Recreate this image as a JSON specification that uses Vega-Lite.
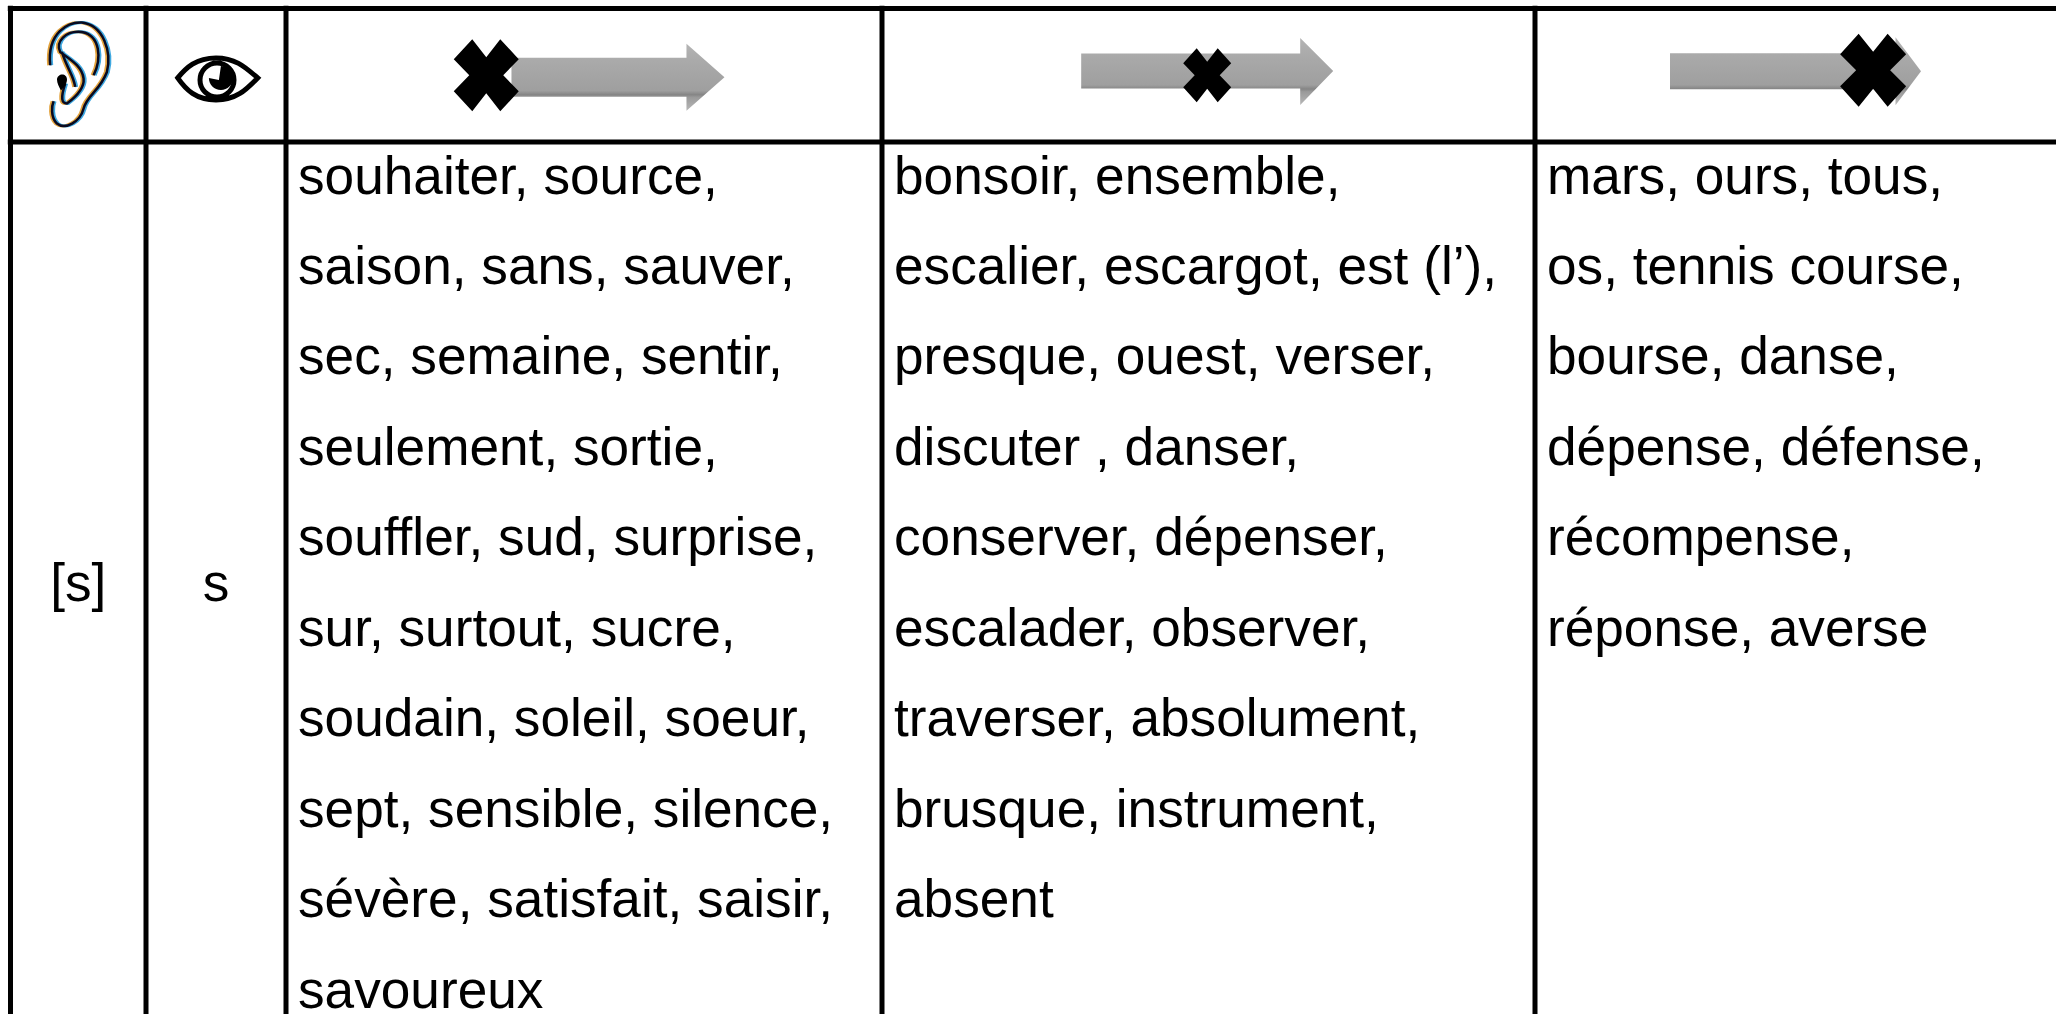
{"$schema":"https://vega.github.io/schema/vega-lite/v6.json","width":2056,"height":1014,"padding":0,"autosize":{"type":"fit","contains":"padding"},"background":"white","config":{"view":{"stroke":null}},
"datasets":{
"vertical":[{"edge":0,"top":-1.02,"bottom":10.5},{"edge":1,"top":-1.02,"bottom":10.5},{"edge":2,"top":-1.02,"bottom":10.5},{"edge":3,"top":-1.02,"bottom":10.5},{"edge":4,"top":-1.02,"bottom":10.5}],
"horizontal":[{"row":-1,"from":-0.02,"to":5},{"row":0,"from":-0.02,"to":5}],
"arrows":[{"icon":"arrow1","col":2.557,"row":-0.485},{"icon":"arrow2","col":3.498,"row":-0.52},{"icon":"arrow3","col":4.5,"row":-0.53}],
"solid":[{"icon":"cross1","col":2.336,"row":-0.5},{"icon":"cross2","col":3.498,"row":-0.5},{"icon":"cross3","col":4.649,"row":-0.537},{"icon":"canal","col":0.38,"row":-0.46},{"icon":"pupil","col":1.535,"row":-0.48}],
"ear":[{"icon":"ear","col":0.49,"row":-0.5}],
"eye":[{"icon":"eye","col":1.5,"row":-0.48}],
"centered":[{"col":0.5,"line":5.5,"text":"[s]"},{"col":1.5,"line":5.5,"text":"s"}],
"words":[
{"col":2,"line":1,"text":"souhaiter, source,"},
{"col":2,"line":2,"text":"saison, sans, sauver,"},
{"col":2,"line":3,"text":"sec, semaine, sentir,"},
{"col":2,"line":4,"text":"seulement, sortie,"},
{"col":2,"line":5,"text":"souffler, sud, surprise,"},
{"col":2,"line":6,"text":"sur, surtout, sucre,"},
{"col":2,"line":7,"text":"soudain, soleil, soeur,"},
{"col":2,"line":8,"text":"sept, sensible, silence,"},
{"col":2,"line":9,"text":"sévère, satisfait, saisir,"},
{"col":2,"line":10,"text":"savoureux"},
{"col":3,"line":1,"text":"bonsoir, ensemble,"},
{"col":3,"line":2,"text":"escalier, escargot, est (l’),"},
{"col":3,"line":3,"text":"presque, ouest, verser,"},
{"col":3,"line":4,"text":"discuter , danser,"},
{"col":3,"line":5,"text":"conserver, dépenser,"},
{"col":3,"line":6,"text":"escalader, observer,"},
{"col":3,"line":7,"text":"traverser, absolument,"},
{"col":3,"line":8,"text":"brusque, instrument,"},
{"col":3,"line":9,"text":"absent"},
{"col":4,"line":1,"text":"mars, ours, tous,"},
{"col":4,"line":2,"text":"os, tennis course,"},
{"col":4,"line":3,"text":"bourse, danse,"},
{"col":4,"line":4,"text":"dépense, défense,"},
{"col":4,"line":5,"text":"récompense,"},
{"col":4,"line":6,"text":"réponse, averse"}
]},
"layer":[
{"data":{"name":"arrows"},"mark":{"type":"point","filled":true,"opacity":1,"size":40000,"fill":{"gradient":"linear","x1":0,"y1":0,"x2":0,"y2":1,"stops":[{"offset":0,"color":"#b4b4b4"},{"offset":0.25,"color":"#aaaaaa"},{"offset":0.7,"color":"#9f9f9f"},{"offset":0.76,"color":"#858585"},{"offset":0.8,"color":"#9a9a9a"},{"offset":1,"color":"#b8b8b8"}]}},
"encoding":{"x":{"field":"col","type":"quantitative","axis":null,"scale":{"domain":[0,1,2,3,4,5],"range":[10.5,146,286,882,1535,2056],"zero":false,"nice":false}},"y":{"field":"row","type":"quantitative","axis":null,"scale":{"domain":[-1,0,1,10,10.5],"range":[8.5,142,176,990,1014],"zero":false,"nice":false}},
"shape":{"field":"icon","type":"nominal","legend":null,"scale":{"domain":["arrow1","arrow2","arrow3","cross1","cross2","cross3","canal","pupil","ear","eye"],"range":[
"M-1.065,-.195L.685,-.195L.685,-.335L1.065,0L.685,.335L.685,.195L-1.065,.195Z",
"M-1.26,-.19L.93,-.19L.93,-.345L1.26,-.015L.93,.325L.93,.16L-1.26,.16Z",
"M-1.255,-.18L1,-.18L1,-.34L1.255,0L1,.34L1,.18L-1.255,.18Z",
"M-.14,-.36L0,-.18L.14,-.36L.325,-.16L.17,0L.325,.16L.14,.36L0,.18L-.14,.36L-.325,.16L-.17,0L-.325,-.16Z",
"M-.105,-.27L0,-.135L.105,-.27L.24,-.12L.125,0L.24,.12L.105,.27L0,.135L-.105,.27L-.24,.12L-.125,0L-.24,-.12Z",
"M-.145,-.365L0,-.185L.145,-.365L.33,-.16L.17,0L.33,.16L.145,.365L0,.185L-.145,.365L-.33,.16L-.17,0L-.33,-.16Z",
"M-.05,-.01C-.05,-.04 -.02,-.06 0,-.06C.03,-.06 .05,-.04 .05,-.01C.05,.03 .02,.07 -.01,.1C-.03,.06 -.05,.03 -.05,-.01Z",
"M0,-.12A.12,.12 0 1,1 -.12,0L-.02,.02L0,-.12Z",
"M-.267,-.1C-.3,-.433 -.083,-.533 .05,-.527C.267,-.5 .35,-.233 .3,-.033C.233,.15 .1,.2 .067,.333C.033,.467 -.117,.55 -.2,.483C-.267,.417 -.25,.3 -.233,.26M.167,0C.25,-.167 .233,-.4 .05,-.433C-.117,-.45 -.217,-.333 -.167,-.233C-.083,-.167 .05,-.1 .067,.033C.077,.133 -.033,.233 -.1,.283C-.15,.283 -.167,.233 -.117,.083M-.15,-.233C-.1,-.067 -.033,0 -.017,.117",
"M-.383,0C-.3,-.1 -.2,-.2 0,-.2C.2,-.2 .3,-.1 .417,0C.3,.12 .2,.22 0,.22C-.2,.22 -.3,.12 -.383,0ZM-.16,.02A.17,.17 0 1,0 .18,.02A.17,.17 0 1,0 -.16,.02Z"
]}}}},
{"data":{"name":"ear"},"mark":{"type":"point","filled":false,"opacity":1,"size":40000,"stroke":"#e2a23c","strokeWidth":3,"xOffset":-1.5},"encoding":{"x":{"field":"col","type":"quantitative"},"y":{"field":"row","type":"quantitative"},"shape":{"field":"icon","type":"nominal","legend":null}}},
{"data":{"name":"ear"},"mark":{"type":"point","filled":false,"opacity":1,"size":40000,"stroke":"#3fa8e0","strokeWidth":3,"xOffset":1.5},"encoding":{"x":{"field":"col","type":"quantitative"},"y":{"field":"row","type":"quantitative"},"shape":{"field":"icon","type":"nominal","legend":null}}},
{"data":{"name":"ear"},"mark":{"type":"point","filled":false,"opacity":1,"size":40000,"stroke":"#0a0a20","strokeWidth":2.5},"encoding":{"x":{"field":"col","type":"quantitative"},"y":{"field":"row","type":"quantitative"},"shape":{"field":"icon","type":"nominal","legend":null}}},
{"data":{"name":"eye"},"mark":{"type":"point","filled":false,"opacity":1,"size":40000,"stroke":"#000000","strokeWidth":5},"encoding":{"x":{"field":"col","type":"quantitative"},"y":{"field":"row","type":"quantitative"},"shape":{"field":"icon","type":"nominal","legend":null}}},
{"data":{"name":"solid"},"mark":{"type":"point","filled":true,"opacity":1,"size":40000,"fill":"#000000"},"encoding":{"x":{"field":"col","type":"quantitative"},"y":{"field":"row","type":"quantitative"},"shape":{"field":"icon","type":"nominal","legend":null}}},
{"data":{"name":"vertical"},"mark":{"type":"rule","color":"#000000","strokeWidth":5},"encoding":{"x":{"field":"edge","type":"quantitative"},"y":{"field":"top","type":"quantitative"},"y2":{"field":"bottom"}}},
{"data":{"name":"horizontal"},"mark":{"type":"rule","color":"#000000","strokeWidth":5},"encoding":{"y":{"field":"row","type":"quantitative"},"x":{"field":"from","type":"quantitative"},"x2":{"field":"to"}}},
{"data":{"name":"words"},"mark":{"type":"text","align":"left","baseline":"middle","dx":12,"dy":1.5,"font":"Liberation Sans","fontSize":53.2,"color":"#000000"},"encoding":{"x":{"field":"col","type":"quantitative"},"y":{"field":"line","type":"quantitative"},"text":{"field":"text"}}},
{"data":{"name":"centered"},"mark":{"type":"text","align":"center","baseline":"middle","dy":1.5,"font":"Liberation Sans","fontSize":53.2,"color":"#000000"},"encoding":{"x":{"field":"col","type":"quantitative"},"y":{"field":"line","type":"quantitative"},"text":{"field":"text"}}}
]}
